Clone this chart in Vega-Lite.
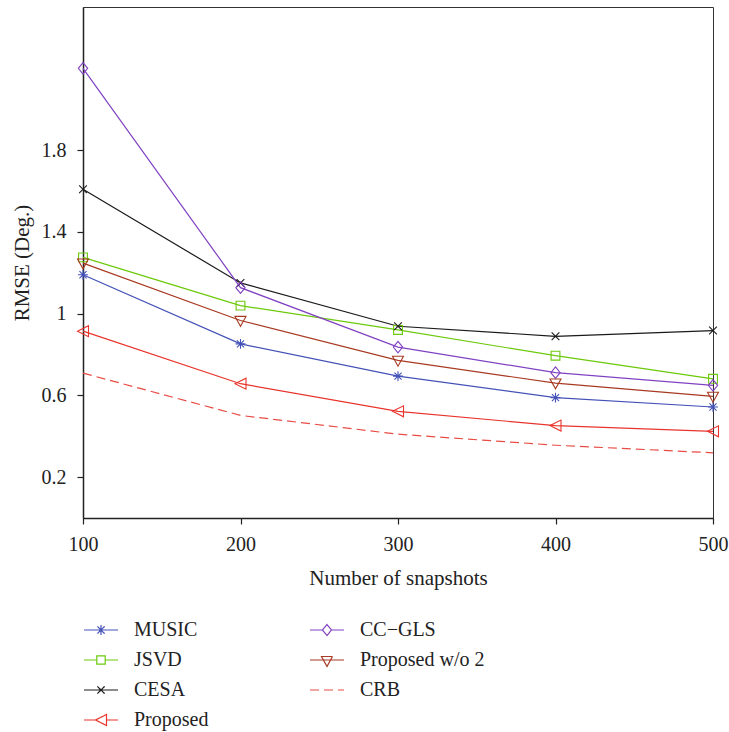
{
  "$schema": "https://vega.github.io/schema/vega-lite/v6.json",
  "width": 630,
  "height": 511,
  "autosize": "none",
  "padding": {"left": 83, "top": 7, "right": 16, "bottom": 214},
  "background": "white",
  "config": {
    "font": "Liberation Serif",
    "view": {"stroke": "#333", "strokeWidth": 1},
    "axis": {
      "grid": false,
      "labelFont": "Liberation Serif",
      "titleFont": "Liberation Serif",
      "labelFontSize": 20,
      "titleFontSize": 21,
      "titleFontWeight": "normal",
      "labelColor": "#222",
      "titleColor": "#222",
      "tickColor": "#222",
      "domainColor": "#222",
      "domainWidth": 1.5,
      "tickWidth": 1.2,
      "tickSize": 6
    },
    "legend": {
      "labelFont": "Liberation Serif",
      "labelFontSize": 20,
      "labelColor": "#222"
    }
  },
  "data": {
    "values": [
      {"n": 100, "series": "MUSIC", "rmse": 1.19},
      {"n": 200, "series": "MUSIC", "rmse": 0.852},
      {"n": 300, "series": "MUSIC", "rmse": 0.694},
      {"n": 400, "series": "MUSIC", "rmse": 0.589},
      {"n": 500, "series": "MUSIC", "rmse": 0.543},
      {"n": 100, "series": "JSVD", "rmse": 1.275},
      {"n": 200, "series": "JSVD", "rmse": 1.039},
      {"n": 300, "series": "JSVD", "rmse": 0.92},
      {"n": 400, "series": "JSVD", "rmse": 0.794},
      {"n": 500, "series": "JSVD", "rmse": 0.681},
      {"n": 100, "series": "CESA", "rmse": 1.608},
      {"n": 200, "series": "CESA", "rmse": 1.15},
      {"n": 300, "series": "CESA", "rmse": 0.938},
      {"n": 400, "series": "CESA", "rmse": 0.889},
      {"n": 500, "series": "CESA", "rmse": 0.917},
      {"n": 100, "series": "Proposed", "rmse": 0.914},
      {"n": 200, "series": "Proposed", "rmse": 0.657},
      {"n": 300, "series": "Proposed", "rmse": 0.522},
      {"n": 400, "series": "Proposed", "rmse": 0.452},
      {"n": 500, "series": "Proposed", "rmse": 0.424},
      {"n": 100, "series": "CC−GLS", "rmse": 2.2},
      {"n": 200, "series": "CC−GLS", "rmse": 1.127},
      {"n": 300, "series": "CC−GLS", "rmse": 0.836},
      {"n": 400, "series": "CC−GLS", "rmse": 0.711},
      {"n": 500, "series": "CC−GLS", "rmse": 0.649},
      {"n": 100, "series": "Proposed w/o 2", "rmse": 1.247},
      {"n": 200, "series": "Proposed w/o 2", "rmse": 0.966},
      {"n": 300, "series": "Proposed w/o 2", "rmse": 0.771},
      {"n": 400, "series": "Proposed w/o 2", "rmse": 0.66},
      {"n": 500, "series": "Proposed w/o 2", "rmse": 0.595},
      {"n": 100, "series": "CRB", "rmse": 0.709},
      {"n": 200, "series": "CRB", "rmse": 0.502},
      {"n": 300, "series": "CRB", "rmse": 0.41},
      {"n": 400, "series": "CRB", "rmse": 0.356},
      {"n": 500, "series": "CRB", "rmse": 0.319}
    ]
  },
  "encoding": {
    "x": {
      "field": "n",
      "type": "quantitative",
      "scale": {"domain": [100, 500], "nice": false, "zero": false},
      "axis": {
        "title": "Number of snapshots",
        "values": [100, 200, 300, 400, 500],
        "labelPadding": 10,
        "titlePadding": 13,
        "labelFlush": false
      }
    },
    "y": {
      "field": "rmse",
      "type": "quantitative",
      "scale": {"domain": [0, 2.5], "nice": false},
      "axis": {
        "title": "RMSE (Deg.)",
        "values": [0.2, 0.6, 1, 1.4, 1.8],
        "format": "~g",
        "labelPadding": 11,
        "titlePadding": 9
      }
    },
    "color": {
      "field": "series",
      "type": "nominal",
      "scale": {
        "domain": ["MUSIC", "JSVD", "CESA", "Proposed", "CC−GLS", "Proposed w/o 2", "CRB"],
        "range": ["#4452b8", "#6cc90a", "#1a1a1a", "#e8342c", "#8042c2", "#a83a22", "#e84c44"]
      },
      "legend": {
        "title": null,
        "orient": "none",
        "legendX": 7,
        "legendY": 612,
        "columns": 2,
        "columnPadding": 98,
        "rowPadding": 9,
        "padding": 0,
        "symbolSize": 400,
        "labelOffset": 22,
        "symbolStrokeWidth": 1.2,
        "encode": {
          "symbols": {
            "update": {
              "shape": {"signal": "datum.value == 'MUSIC' ? 'M-1.7,0H1.7M0,-0.5V0.5M-0.5,0H0.5M-0.36,-0.36L0.36,0.36M-0.36,0.36L0.36,-0.36' : datum.value == 'JSVD' ? 'M-1.7,0H-0.42M0.42,0H1.7M-0.42,-0.42H0.42V0.42H-0.42Z' : datum.value == 'CESA' ? 'M-1.7,0H1.7M-0.36,-0.36L0.36,0.36M-0.36,0.36L0.36,-0.36' : datum.value == 'Proposed' ? 'M-1.7,0H-0.55M0.55,0H1.7M-0.55,0L0.55,-0.55L0.55,0.55Z' : datum.value == 'CC−GLS' ? 'M-1.7,0H-0.45M0.45,0H1.7M0,-0.55L0.45,0L0,0.55L-0.45,0Z' : datum.value == 'Proposed w/o 2' ? 'M-1.7,0H1.7M-0.55,-0.35L0.55,-0.35L0,0.65Z' : 'M-1.7,0H1.7'"},
              "fill": {"value": "transparent"},
              "stroke": {"scale": "color", "field": "value"},
              "strokeWidth": {"value": 1.2},
              "size": {"value": 400},
              "opacity": {"value": 1},
              "strokeDash": [{"test": "datum.value == 'CRB'", "value": [9, 5]}, {"value": [1, 0]}]
            }
          }
        }
      }
    }
  },
  "layer": [
    {
      "transform": [{"filter": "datum.series != 'CRB'"}],
      "mark": {"type": "line", "strokeWidth": 1.2}
    },
    {
      "transform": [{"filter": "datum.series == 'CRB'"}],
      "mark": {"type": "line", "strokeWidth": 1.2, "strokeDash": [9, 5]}
    },
    {
      "transform": [{"filter": "datum.series != 'CRB'"}],
      "mark": {"type": "point", "filled": false, "size": 121, "strokeWidth": 1.1, "opacity": 1, "clip": false},
      "encoding": {
        "shape": {
          "field": "series",
          "type": "nominal",
          "scale": {
            "domain": ["MUSIC", "JSVD", "CESA", "Proposed", "CC−GLS", "Proposed w/o 2"],
            "range": [
              "M0,-0.9V0.9M-0.9,0H0.9M-0.65,-0.65L0.65,0.65M-0.65,0.65L0.65,-0.65",
              "M-0.8,-0.8H0.8V0.8H-0.8Z",
              "M-0.7,-0.7L0.7,0.7M-0.7,0.7L0.7,-0.7",
              "M-1,0L1,-1L1,1Z",
              "M0,-1.05L0.85,0L0,1.05L-0.85,0Z",
              "M-1,-0.75L1,-0.75L0,1.05Z"
            ]
          },
          "legend": null
        }
      }
    }
  ]
}
